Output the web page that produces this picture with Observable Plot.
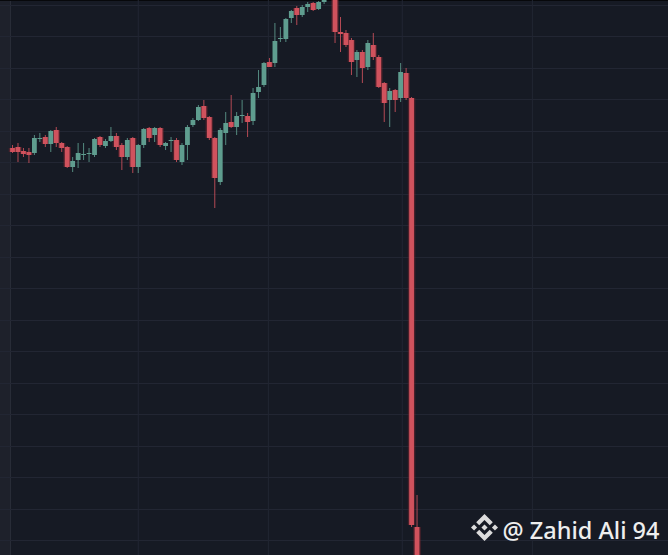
<!DOCTYPE html>
<html>
<head>
<meta charset="utf-8">
<script src="https://cdn.jsdelivr.net/npm/d3@7"></script>
<script src="https://cdn.jsdelivr.net/npm/@observablehq/plot@0.6"></script>
<style>
  html, body { margin: 0; padding: 0; background: #161a24; }
  #chart {
    position: relative; width: 668px; height: 555px; overflow: hidden;
    background:
      linear-gradient(to bottom, #07080b 0 1px, transparent 1px),
      linear-gradient(to right, #1e212b 0 10px, #282c37 10px 11px, #161a24 11px);
  }
  #chart svg { display: block; }
  #logo { position: absolute; left: 471px; top: 514px; width: 27px; height: 27px; }
</style>
</head>
<body>
<div id="chart">
  <svg id="logo" viewBox="0 0 126.61 126.61" fill="#dcdcdc">
    <path d="M38.73 53.2l24.59-24.58 24.6 24.6 14.3-14.31L63.32 0 24.42 38.9l14.31 14.3z"/>
    <path d="M0 63.31l14.3-14.31 14.31 14.31-14.31 14.3z"/>
    <path d="M38.73 73.41l24.59 24.59 24.6-24.6 14.31 14.29-38.9 38.91-38.91-38.88z"/>
    <path d="M98 63.31l14.3-14.31 14.31 14.3-14.31 14.32z"/>
    <path d="M77.83 63.3L63.32 48.78 52.59 59.51l-1.24 1.23-2.54 2.54 14.51 14.5 14.51-14.47z"/>
  </svg>
</div>
<script>
// precios, una vela por posición
const open  = [45.2,45.3,44.9,44.8,44.7,46.1,46.3,45.6,47.0,45.7,45.3,43.3,44.0,44.5,44.6,44.5,46.3,45.4,45.9,46.4,
               45.5,44.3,46.2,43.3,45.5,47.2,46.5,47.2,45.4,45.9,46.0,43.8,45.5,47.5,48.0,49.4,48.3,46.2,41.8,46.7,
               47.8,47.3,48.4,48.4,47.9,50.8,51.5,53.8,53.7,56.1,56.1,58.2,59.2,58.5,59.3,59.7,59.1,59.8,61.0,60.5,
               56.8,56.7,56.0,54.0,54.8,53.3,55.5,54.3,51.7,50.0,51.0,50.2,52.7,50.2,7.3]
const high  = [45.5,45.7,45.2,45.2,46.5,46.7,46.5,47.0,47.3,45.8,45.4,44.3,45.7,45.7,45.2,46.2,46.4,46.1,47.3,46.7,
               45.7,46.2,46.3,45.6,47.2,47.3,47.3,47.3,45.8,46.3,46.2,45.7,47.5,48.2,49.5,50.0,48.4,46.3,47.2,48.8,
               50.5,48.8,50.0,48.7,51.2,53.0,53.8,54.2,57.7,57.3,58.2,59.0,59.4,59.5,59.8,59.8,59.9,61.4,61.5,60.9,
               58.3,57.0,56.2,55.0,55.0,56.0,56.7,54.5,51.8,51.2,51.1,53.7,53.2,50.3,10.5]
const low   = [44.7,43.8,44.3,43.7,44.5,45.8,45.3,44.8,45.3,44.8,43.2,42.8,43.2,44.0,43.8,44.3,45.3,45.2,45.8,45.0,
               43.0,44.0,42.7,42.7,45.2,45.8,45.8,45.3,45.0,44.8,43.8,43.5,44.0,47.3,47.9,48.0,46.0,39.2,41.5,45.5,
               47.2,46.5,47.7,46.3,47.5,50.2,51.3,53.3,53.3,55.8,55.8,57.7,57.5,58.3,58.8,58.9,59.0,59.6,60.2,55.7,
               54.8,55.3,52.5,52.3,51.7,53.0,54.0,51.2,47.8,47.3,48.8,49.8,50.0,7.3,1.5]
const close = [44.8,44.8,44.6,44.5,46.2,46.2,45.6,46.9,45.7,45.2,43.3,43.9,44.7,44.6,44.7,46.1,45.5,45.9,46.4,45.3,
               44.3,46.0,43.3,45.5,47.1,46.2,47.2,45.5,45.7,46.0,44.0,45.5,47.3,48.0,49.3,48.2,46.2,42.2,47.0,47.7,
               47.3,48.4,48.5,47.8,50.7,51.3,53.7,53.3,55.9,56.2,58.1,58.9,58.5,59.3,59.6,59.0,59.8,61.0,60.5,56.8,
               56.6,55.5,53.8,54.8,53.2,55.7,54.3,51.3,49.7,50.9,50.0,52.8,50.2,7.5,2.5]

// líneas de la grilla
const gridPrices = [59.5,56.4,53.2,50.1,46.9,43.8,40.6,37.5,34.3,31.2,28.0,24.9,21.7,18.6,15.4,12.3,9.1,6.0]
const gridIdx = [23,46.8,71.3,95.1]

const velas = open.map((o, i) => ({
  i, open: o, high: high[i], low: low[i], close: close[i],
  dir: close[i] >= o ? "sube" : "baja"
}))

const rojo = "#d0525d"
const verde = "#5f9d8f"

let chart = Plot.plot({
  width: 668,
  height: 555,
  margin: 0,
  style: {background: "transparent", overflow: "hidden"},
  x: {domain: [-2.2, 120], axis: null},
  y: {domain: [4.5, 60], axis: null},
  color: {domain: ["sube", "baja"], range: [verde, rojo]},
  marks: [
    Plot.ruleY(gridPrices, {stroke: "#222633", strokeWidth: 1}),
    Plot.ruleX(gridIdx, {stroke: "#222633", strokeWidth: 1}),
    // halo oscuro de las velas rojas
    Plot.ruleX(velas.filter(d => d.dir === "baja"), {
      x: "i", y1: "open", y2: "close", stroke: "#7a2630", strokeWidth: 7.5, strokeOpacity: 0.5, clip: true
    }),
    // mechas
    Plot.ruleX(velas, {x: "i", y1: "low", y2: "high", stroke: "dir", strokeWidth: 1, strokeOpacity: 0.85, clip: true}),
    // cuerpos
    Plot.ruleX(velas, {x: "i", y1: "open", y2: "close", stroke: "dir", strokeWidth: 4.8, clip: true}),
    Plot.text(["@ Zahid Ali 94"], {
      frameAnchor: "bottom-right", lineAnchor: "bottom", dx: -9, dy: -17,
      fill: "#eeeeee", fontSize: 23.5, fontWeight: 500, fontFamily: "Noto Sans"
    })
  ]
})

d3.select('#chart').append(() => chart)
</script>
</body>
</html>
